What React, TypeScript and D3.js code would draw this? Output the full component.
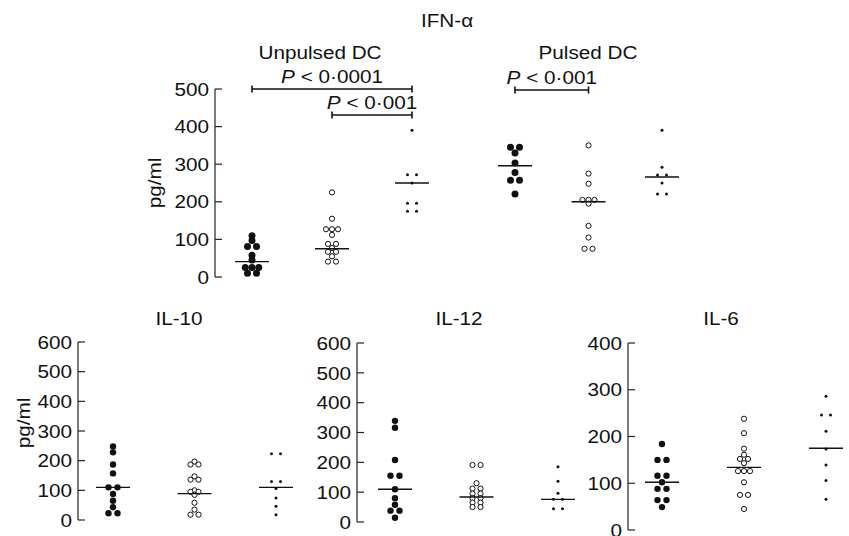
import * as d3 from 'd3';

const W = 849;
const H = 536;
const FONT = '"Liberation Sans", Arial, Helvetica, sans-serif';
const FS = 18.5;
const SX = 1.12; // the figure's lettering is a bit wider than Arial
const INK = '#111';

const kinds = ['filled', 'open', 'small'];

// IFN-alpha (top panel)
const ifnGroups = ['Unpulsed DC', 'Pulsed DC'];
const ifnTicks = [0, 100, 200, 300, 400, 500];
const ifnUnpulsedFilled = [110, 97, 81, 81, 58, 45, 25, 25, 25, 10, 10];
const ifnUnpulsedOpen = [225, 155, 127, 127, 127, 112, 88, 88, 77, 67, 67, 55, 41, 41];
const ifnUnpulsedSmall = [390, 272, 272, 250, 196, 196, 175, 175];
const ifnPulsedFilled = [345, 345, 330, 303, 278, 257, 257, 221];
const ifnPulsedOpen = [350, 275, 248, 205, 205, 205, 195, 136, 105, 75, 75];
const ifnPulsedSmall = [390, 292, 271, 271, 250, 221, 221];
const ifnUnpulsedMedians = [41, 75, 250];
const ifnPulsedMedians = [296, 200, 266];
const ifnBrackets = [
  { group: 0, from: 'filled', to: 'small', label: '0·0001' },
  { group: 0, from: 'open', to: 'small', label: '0·001' },
  { group: 1, from: 'filled', to: 'open', label: '0·001' },
];

// bottom panels
const il10Ticks = [0, 100, 200, 300, 400, 500, 600];
const il12Ticks = [0, 100, 200, 300, 400, 500, 600];
const il6Ticks = [0, 100, 200, 300, 400];
const il10Filled = [248, 228, 187, 157, 110, 110, 88, 65, 43, 23, 23];
const il10Open = [197, 187, 187, 147, 136, 136, 100, 95, 95, 85, 58, 35, 18, 18];
const il10Small = [223, 223, 130, 130, 106, 74, 46, 18];
const il10Medians = [110, 89, 110];
const il12Filled = [339, 316, 208, 155, 155, 110, 80, 58, 38, 38, 14];
const il12Open = [191, 191, 130, 112, 112, 95, 95, 80, 80, 65, 65, 50, 50];
const il12Small = [185, 137, 96, 76, 76, 44, 44];
const il12Medians = [110, 84, 76];
const il6Filled = [184, 150, 150, 116, 116, 102, 88, 88, 64, 64, 49];
const il6Open = [238, 207, 174, 161, 152, 152, 143, 126, 126, 126, 102, 75, 75, 45];
const il6Small = [286, 246, 246, 211, 173, 139, 106, 66];
const il6Medians = [102, 134, 175];

const spacing = { filled: 9, open: 8, small: 9 };

// equal values sit side by side, centred on the column
function placeDots(values: number[], kind: string) {
  const counts = d3.rollup(values, v => v.length, d => d);
  const gap = spacing[kind];
  return Array.from(counts, ([value, n]) =>
    d3.range(n).map(i => ({ value, dx: (i - (n - 1) / 2) * (n === 2 ? gap : gap * 0.75) }))
  ).flat();
}

function Label({ x, y, anchor = 'middle', rotate = 0, dy = '0', children }: any) {
  return (
    <g transform={`translate(${x},${y}) rotate(${rotate})`}>
      <text transform={`scale(${SX},1)`} textAnchor={anchor} dy={dy}
        fontFamily={FONT} fontSize={FS} fill={INK}>{children}</text>
    </g>
  );
}

function Dot({ kind, cx, cy, big }: any) {
  if (kind === 'filled') return <circle cx={cx} cy={cy} r={big ? 3.5 : 3.2} fill="#111" />;
  if (kind === 'open') return <circle cx={cx} cy={cy} r={2.6} fill="#fff" stroke="#111" strokeWidth={1} />;
  return <circle cx={cx} cy={cy} r={1.5} fill="#111" />;
}

function YAxis({ x, y, ticks }: any) {
  return (
    <g>
      <line x1={x} x2={x} y1={y(ticks[0])} y2={y(ticks[ticks.length - 1])} stroke="#222" strokeWidth={1.2} />
      {ticks.map((t: number) => (
        <g key={t}>
          <line x1={x} x2={x + 7} y1={y(t)} y2={y(t)} stroke="#222" strokeWidth={1.2} />
          <Label x={x - 6} y={y(t)} anchor="end" dy="0.36em">{t}</Label>
        </g>
      ))}
    </g>
  );
}

function Column({ kind, cx, y, values, median, big }: any) {
  return (
    <g>
      {placeDots(values, kind).map((d, i) => (
        <Dot key={i} kind={kind} cx={cx + d.dx} cy={y(d.value)} big={big} />
      ))}
      <line x1={cx - 17} x2={cx + 17} y1={y(median)} y2={y(median)} stroke="#111" strokeWidth={1.4} />
    </g>
  );
}

export default function App() {
  const yTop = d3.scaleLinear().domain([0, 500]).range([277, 89]);
  const groupX = [
    d3.scalePoint().domain(kinds).range([252, 412]),
    d3.scalePoint().domain(kinds).range([515, 662]),
  ];
  const topData = [
    [ifnUnpulsedFilled, ifnUnpulsedOpen, ifnUnpulsedSmall],
    [ifnPulsedFilled, ifnPulsedOpen, ifnPulsedSmall],
  ];
  const topMedians = [ifnUnpulsedMedians, ifnPulsedMedians];
  const groupLabelX = [320, 588];
  const bracketY = [89, 115, 90];

  const panels = [
    { title: 'IL-10', ticks: il10Ticks, data: [il10Filled, il10Open, il10Small], medians: il10Medians,
      axisX: 78, cols: [113, 276], yRange: [520, 342], titleX: 179, yLabel: true },
    { title: 'IL-12', ticks: il12Ticks, data: [il12Filled, il12Open, il12Small], medians: il12Medians,
      axisX: 357, cols: [395, 558], yRange: [522, 343], titleX: 459, yLabel: false },
    { title: 'IL-6', ticks: il6Ticks, data: [il6Filled, il6Open, il6Small], medians: il6Medians,
      axisX: 628, cols: [662, 826], yRange: [530, 343], titleX: 721, yLabel: false },
  ];

  return (
    <svg width={W} height={H} style={{ position: 'absolute', left: 0, top: 0, background: '#fff' }}>
      <rect width={W} height={H} fill="#fff" />

      {/* IFN-alpha */}
      <Label x={447} y={27}>IFN-α</Label>
      <Label x={155} y={183} rotate={-90} dy="0.35em">pg/ml</Label>
      <YAxis x={215} y={yTop} ticks={ifnTicks} />
      {ifnGroups.map((g, gi) => (
        <g key={g}>
          <Label x={groupLabelX[gi]} y={59}>{g}</Label>
          {kinds.map((k, ki) => (
            <Column key={k} kind={k} cx={groupX[gi](k)} y={yTop}
              values={topData[gi][ki]} median={topMedians[gi][ki]} big />
          ))}
        </g>
      ))}
      {ifnBrackets.map((b, i) => {
        const x1 = groupX[b.group](b.from)!;
        const x2 = groupX[b.group](b.to)!;
        const by = bracketY[i];
        return (
          <g key={i} stroke="#111" strokeWidth={1.6}>
            <line x1={x1} x2={x2} y1={by} y2={by} />
            <line x1={x1} x2={x1} y1={by - 3.5} y2={by + 3.5} />
            <line x1={x2} x2={x2} y1={by - 3.5} y2={by + 3.5} />
            <g stroke="none">
              <Label x={(x1 + x2) / 2} y={by - 6}>
                <tspan fontStyle="italic">P</tspan> {'<'} {b.label}
              </Label>
            </g>
          </g>
        );
      })}

      {/* IL-10, IL-12, IL-6 */}
      {panels.map(p => {
        const y = d3.scaleLinear().domain([0, p.ticks[p.ticks.length - 1]]).range(p.yRange);
        const x = d3.scalePoint().domain(kinds).range(p.cols);
        return (
          <g key={p.title}>
            <Label x={p.titleX} y={325}>{p.title}</Label>
            {p.yLabel && <Label x={24} y={423} rotate={-90} dy="0.35em">pg/ml</Label>}
            <YAxis x={p.axisX} y={y} ticks={p.ticks} />
            {kinds.map((k, ki) => (
              <Column key={k} kind={k} cx={x(k)} y={y} values={p.data[ki]} median={p.medians[ki]} />
            ))}
          </g>
        );
      })}
    </svg>
  );
}
